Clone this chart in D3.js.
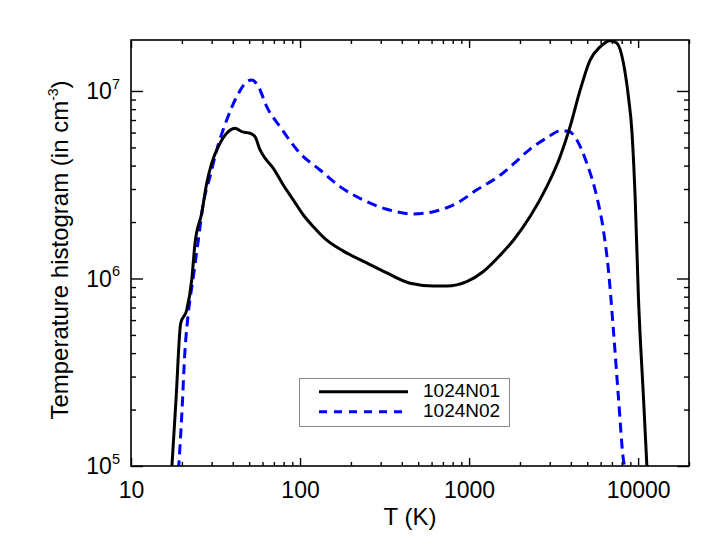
<!DOCTYPE html>
<html><head><meta charset="utf-8">
<script src="https://cdn.jsdelivr.net/npm/d3@7"></script>
<style>
body{margin:0;background:#fff;}
svg{display:block;font-family:"Liberation Sans",Arial,Helvetica,sans-serif;}
</style></head>
<body><svg id="c" width="728" height="550"></svg>
<script>
// ---- data ----
const seriesNames = ["1024N01", "1024N02"];
const tempN01 = [17.4, 18.46, 19.68, 21.36, 22.87, 23.91, 26.2, 28.05, 30.03, 32.86, 37.65, 41.25, 45.19, 50.6, 54.16, 58.0, 62.1, 69.5, 79.6, 91.3, 104.6, 119.9, 143.9, 180.4, 248, 326, 447.7, 615, 738, 969, 1215, 1526, 1829, 2296, 2883, 3455, 3959, 4539, 5200, 5960, 6829, 7482, 8185, 8763, 9178, 9600, 10040, 10750, 11300];
const histN01 = [9.5e4, 2.25e5, 5.77e5, 6.79e5, 9.82e5, 1.54e6, 2.23e6, 3.22e6, 4.12e6, 5.05e6, 6.07e6, 6.32e6, 6.07e6, 5.95e6, 5.71e6, 4.85e6, 4.38e6, 3.87e6, 3.15e6, 2.62e6, 2.18e6, 1.89e6, 1.60e6, 1.40e6, 1.21e6, 1.07e6, 9.43e5, 9.12e5, 9.12e5, 9.62e5, 1.09e6, 1.33e6, 1.60e6, 2.14e6, 3.09e6, 4.46e6, 6.45e6, 1.01e7, 1.46e7, 1.72e7, 1.855e7, 1.80e7, 1.41e7, 9.32e6, 6.19e6, 2.73e6, 8.0e5, 2.34e5, 9.5e4];
const tempN02 = [19.1, 19.95, 20.87, 21.83, 23.37, 25.01, 26.78, 29.34, 32.15, 36.84, 42.2, 48.4, 51.8, 56.7, 63.5, 76.1, 100, 131.3, 172.5, 248, 326, 468, 615, 846, 1111, 1526, 1829, 2296, 2883, 3455, 3868, 4339, 4971, 5696, 6233, 6673, 7141, 7645, 8185, 8420];
const histN02 = [9.5e4, 1.83e5, 4.16e5, 6.52e5, 1.02e6, 1.60e6, 2.52e6, 3.49e6, 4.85e6, 7.0e6, 9.32e6, 1.12e7, 1.145e7, 1.055e7, 8.25e6, 6.45e6, 4.65e6, 3.79e6, 3.09e6, 2.57e6, 2.34e6, 2.21e6, 2.27e6, 2.52e6, 2.97e6, 3.55e6, 4.08e6, 4.90e6, 5.62e6, 6.12e6, 6.10e6, 5.48e6, 4.12e6, 2.73e6, 1.81e6, 1.11e6, 5.31e5, 2.34e5, 1.08e5, 9.5e4];
const xMajorTicks = [10, 100, 1000, 10000];
const xTickLabels = ["10", "100", "1000", "10000"];
const yMajorTicks = [1e5, 1e6, 1e7];
const yTickExponents = ["5", "6", "7"];
const xDomain = [10, 20000];
const yDomain = [1e5, 1.87e7];

// ---- layout ----
const L = 131, R = 689, T = 40, B = 466;
const svg = d3.select("#c");
const x = d3.scaleLog().domain(xDomain).range([L, R]);
const y = d3.scaleLog().domain(yDomain).range([B, T]);

const xMinor = [];
for (let d = 10; d < 20000; d *= 10) for (let k = 2; k <= 9; k++) if (d*k <= 20000) xMinor.push(d*k);
const yMinor = [];
for (let d = 1e5; d < 2e7; d *= 10) for (let k = 2; k <= 9; k++) if (d*k <= yDomain[1]) yMinor.push(d*k);

svg.append("clipPath").attr("id","clip").append("rect")
  .attr("x", L).attr("y", T).attr("width", R-L).attr("height", B-T);

const line = d3.line().x(d => x(d[0])).y(d => y(d[1])).curve(d3.curveMonotoneX);
const g = svg.append("g").attr("clip-path","url(#clip)");
g.append("path").datum(tempN02.map((t,i)=>[t,histN02[i]]))
  .attr("d", line).attr("fill","none").attr("stroke","#0000ff")
  .attr("stroke-width",3).attr("stroke-dasharray","10,6");
g.append("path").datum(tempN01.map((t,i)=>[t,histN01[i]]))
  .attr("d", line).attr("fill","none").attr("stroke","#000")
  .attr("stroke-width",3).attr("stroke-linejoin","round");

// axes
function styleAxis(sel){
  sel.select(".domain").remove();
  sel.selectAll("line").attr("stroke","#000").attr("stroke-width",1.4);
}
const fs = 23;
svg.append("g").attr("transform",`translate(0,${B})`)
  .call(d3.axisBottom(x).tickValues(xMajorTicks).tickSize(-8).tickPadding(15.5)
    .tickFormat((d,i)=>xTickLabels[i]))
  .call(styleAxis)
  .call(s=>s.selectAll("text").attr("font-size",fs).attr("fill","#000").attr("font-family",null));
svg.append("g").attr("transform",`translate(0,${B})`)
  .call(d3.axisBottom(x).tickValues(xMinor).tickSize(-4).tickFormat(""))
  .call(styleAxis);
svg.append("g").attr("transform",`translate(0,${T})`)
  .call(d3.axisTop(x).tickValues(xMajorTicks).tickSize(-8).tickFormat(""))
  .call(styleAxis);
svg.append("g").attr("transform",`translate(0,${T})`)
  .call(d3.axisTop(x).tickValues(xMinor).tickSize(-4).tickFormat(""))
  .call(styleAxis);
svg.append("g").attr("transform",`translate(${L},0)`)
  .call(d3.axisLeft(y).tickValues(yMajorTicks).tickSize(-12).tickFormat(""))
  .call(styleAxis);
svg.append("g").attr("transform",`translate(${L},0)`)
  .call(d3.axisLeft(y).tickValues(yMinor).tickSize(-5).tickFormat(""))
  .call(styleAxis);
svg.append("g").attr("transform",`translate(${R},0)`)
  .call(d3.axisRight(y).tickValues(yMajorTicks).tickSize(-12).tickFormat(""))
  .call(styleAxis);
svg.append("g").attr("transform",`translate(${R},0)`)
  .call(d3.axisRight(y).tickValues(yMinor).tickSize(-5).tickFormat(""))
  .call(styleAxis);

// y tick labels with superscripts
yMajorTicks.forEach((v,i)=>{
  const t = svg.append("text").attr("x", 120).attr("y", y(v)+8.3)
    .attr("text-anchor","end").attr("font-size",fs).attr("fill","#000");
  t.append("tspan").text("10");
  t.append("tspan").attr("font-size",14.5).attr("dy",-10.5).text(yTickExponents[i]);
});

// frame
svg.append("rect").attr("x",L).attr("y",T).attr("width",R-L).attr("height",B-T)
  .attr("fill","none").attr("stroke","#000").attr("stroke-width",1.6);

// axis titles
svg.append("text").attr("x",(L+R)/2).attr("y",524.5).attr("text-anchor","middle")
  .attr("font-size",24).attr("fill","#000").text("T (K)");
const yl = svg.append("text").attr("transform",`translate(68,${(T+B)/2 - 3}) rotate(-90)`)
  .attr("text-anchor","middle").attr("font-size",24).attr("fill","#000");
yl.append("tspan").text("Temperature histogram (in cm");
yl.append("tspan").attr("font-size",14).attr("dy",-10).text("-3");
yl.append("tspan").attr("dy",10).text(")");

// legend
const lg = svg.append("g");
lg.append("rect").attr("x",299.5).attr("y",378.5).attr("width",210).attr("height",48)
  .attr("fill","#fff").attr("stroke","#888").attr("stroke-width",1);
const legStyles = [{c:"#000",dash:null,y:391.7},{c:"#0000ff",dash:"8,7",y:411.7}];
seriesNames.forEach((n,i)=>{
  const s = legStyles[i];
  lg.append("line").attr("x1",319).attr("x2",408).attr("y1",s.y).attr("y2",s.y)
    .attr("stroke",s.c).attr("stroke-width",3).attr("stroke-dasharray",s.dash);
  lg.append("text").attr("x",423).attr("y",s.y+5.2).attr("font-size",19)
    .attr("fill","#000").text(n);
});
</script></body></html>
